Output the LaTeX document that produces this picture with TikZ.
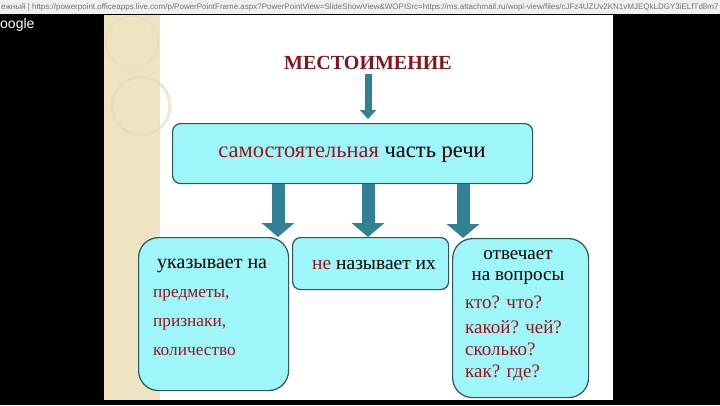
\documentclass[tikz,border=0pt]{standalone}
\usepackage{fontspec}
\setmainfont{Liberation Serif}
\newfontfamily\uifont{Liberation Sans}
\usetikzlibrary{arrows.meta,shapes}
\definecolor{boxfill}{RGB}{158,246,248}
\definecolor{boxline}{RGB}{45,85,95}
\definecolor{arrowteal}{RGB}{50,128,148}
\definecolor{wordred}{RGB}{150,22,32}
\definecolor{cream}{RGB}{239,228,194}
\definecolor{ring}{RGB}{228,216,180}
\definecolor{barfill}{RGB}{240,240,240}
\tikzstyle{box}=[draw=boxline,fill=boxfill,line width=1.2pt,anchor=north west,inner sep=0pt]
\tikzstyle{bigarrow}=[draw=arrowteal,line width=13pt,-{Triangle[width=32pt,length=14pt]}]
\tikzstyle{smallarrow}=[draw=arrowteal,line width=7pt,-{Triangle[width=16pt,length=9pt]}]
\tikzstyle{label}=[inner sep=0pt,font=\fontsize{20}{24}\selectfont]
\tikzstyle{redword}=[inner sep=0pt,anchor=west,text=wordred]

\begin{document}
\begin{tikzpicture}[x=1pt,y=-1pt]
    \useasboundingbox (0,0) rectangle (720,405);
    % screen, browser bar and slide
    \fill[black] (0,0) rectangle (720,405);
    \fill[barfill] (0,0) rectangle (720,14);
    \node[anchor=west,inner sep=0pt,text=black!55,font=\uifont\fontsize{8}{9}\selectfont] (url) at (1,7)
        {ежный | https://powerpoint.officeapps.live.com/p/PowerPointFrame.aspx?PowerPointView=SlideShowView\&WOPISrc=https://ms.attachmail.ru/wopi-view/files/cJFz4UZUv2KN1vMJEQkLDGY3iELfTd8m7};
    \node[anchor=west,inner sep=0pt,text=white,font=\uifont\fontsize{14}{16}\selectfont] (google) at (0,25) {oogle};
    \fill[white] (104,15) rectangle (613,400);
    \fill[cream] (104,15) rectangle (160,400);
    \begin{scope}
        \clip (104,15) rectangle (613,400);
        \draw[ring,line width=1pt,opacity=0.6] (132,42) circle (26);
        \draw[ring,line width=3pt,opacity=0.6] (141,106) circle (29);
    \end{scope}

    % title and the boxes
    \node[inner sep=0pt,text=wordred!90!black,font=\bfseries\fontsize{20}{24}\selectfont] (pronoun) at (368,63) {МЕСТОИМЕНИЕ};
    \node[box,rounded corners=8pt,minimum width=360pt,minimum height=60pt] (part) at (172,123) {};
    \node[box,rounded corners=20pt,minimum width=150pt,minimum height=153pt] (points) at (138,237) {};
    \node[box,rounded corners=8pt,minimum width=156pt,minimum height=52pt] (names) at (292,237) {};
    \node[box,rounded corners=20pt,minimum width=136pt,minimum height=159pt] (answers) at (452,238) {};

    % arrows
    \draw[smallarrow,shorten <=4pt,shorten >=4pt] (pronoun.south) -- (part.north -| pronoun.south);
    \foreach \name/\x/\dest in {a1/278/points, a2/368/names, a3/463/answers}{
        \coordinate (\name) at (\x,0);
        \draw[bigarrow] (part.south -| \name) -- (\dest.north -| \name);
    }

    % texts
    \node[label,font=\fontsize{22.5}{26}\selectfont] (partText) at (352,155) {\textcolor{wordred}{самостоятельная} часть речи};
    \node[label,anchor=west] (pointsText) at (157,266) {указывает на};
    \foreach \y/\word in {295/{предметы,}, 324/{признаки,}, 352/{количество}}
        \node[redword,font=\fontsize{17.3}{20}\selectfont] (obj\y) at (153,\y) {\word};
    \node[inner sep=0pt,anchor=west,font=\fontsize{19.5}{22}\selectfont] (namesText) at (312,265) {\textcolor{wordred}{не} называет их};
    \node[label,font=\fontsize{19}{22}\selectfont] (ansA) at (518,255) {отвечает};
    \node[label,font=\fontsize{19}{22}\selectfont] (ansB) at (518,278) {на вопросы};
    \foreach \y/\word in {302/{кто? что?}, 327/{какой? чей?}, 349/{сколько?}, 373/{как? где?}}
        \node[redword,font=\fontsize{19}{22}\selectfont] (q\y) at (465,\y) {\word};
\end{tikzpicture}
\end{document}
